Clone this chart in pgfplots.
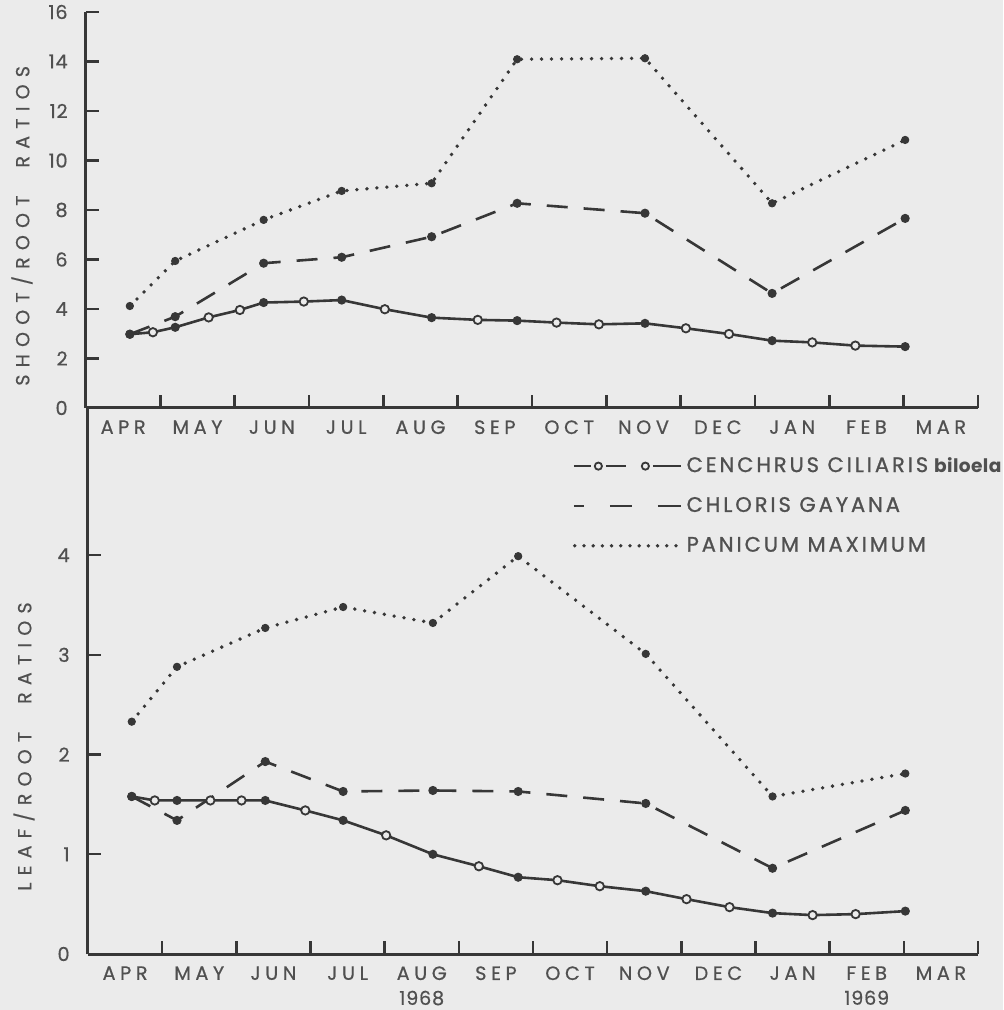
\documentclass[border=0pt]{standalone}
\usepackage{pgfplots}
\pgfplotsset{compat=1.18}
\usepackage{fontspec}
\setmainfont{Poppins}
\newfontfamily\lab[LetterSpace=24,FakeBold=0.6]{Poppins}
\newfontfamily\num[LetterSpace=4,FakeBold=0.6]{Poppins}
\newfontfamily\ylab[LetterSpace=38,FakeBold=0.6]{Poppins}
\newfontfamily\leg[LetterSpace=14,FakeBold=1]{Poppins}
\newfontfamily\labs[LetterSpace=2]{Poppins}
\definecolor{bgc}{RGB}{235,235,235}
\definecolor{ink}{RGB}{55,55,55}
\definecolor{txt}{RGB}{80,80,80}

\pgfplotsset{
  grassaxis/.style={
    scale only axis,
    xmin=0, xmax=12, ymin=0,
    axis lines=left,
    axis line style={-, line width=1.5pt, color=ink},
    tick align=inside,
    major tick length=6.5pt,
    tick style={line width=1.2pt, color=ink},
    xtick={1,...,12}, xticklabels={},
    extra x ticks={0.5,1.5,2.5,3.5,4.5,5.5,6.5,7.5,8.5,9.5,10.5,11.5},
    extra x tick style={major tick length=0pt, grid=none},
    xticklabel style={font=\lab\fontsize{9.6}{10}\selectfont, text=txt,
      anchor=north, inner sep=0pt, yshift=-6pt, align=center},
    yticklabel style={font=\num\fontsize{9.6}{10}\selectfont, text=txt,
      anchor=east, inner sep=0pt, xshift=-9pt},
    /pgf/number format/assume math mode=true,
    clip=false,
    every axis y label/.style={xshift=-32pt, rotate=90, anchor=center,
      font=\ylab\fontsize{9.5}{10}\selectfont, text=txt},
  },
  cen/.style={ink, line width=1.3pt, scatter, scatter src=explicit symbolic,
    scatter/classes={
      d={mark=*, mark size=1.6pt, draw=ink, fill=ink},
      o={mark=*, mark size=2.1pt, draw=ink, fill=bgc, line width=0.9pt}}},
  chl/.style={ink, line width=1.3pt, dash pattern=on 10.5pt off 8pt,
    mark=*, mark size=1.6pt, mark options={solid, fill=ink}},
  pan/.style={ink, line width=1.9pt, line cap=round, dash pattern=on 0pt off 5pt,
    mark=*, mark size=1.8pt, mark options={solid, fill=ink, line width=0.5pt}},
}

\begin{document}
\begin{tikzpicture}
\path[use as bounding box, fill=bgc] (0,0) rectangle (501.5pt,505pt);

% ---------------- top: shoot/root ----------------
\begin{axis}[grassaxis,
  at={(43pt,301pt)}, anchor=south west,
  width=446pt, height=198pt,
  ymax=16, ytick={0,2,...,16},
  extra x tick labels={APR,MAY,JUN,JUL,AUG,SEP,OCT,NOV,DEC,JAN,FEB,MAR},
  ylabel={SHOOT/ROOT\hspace{14pt}RATIOS},
  every axis y label/.append style={at={(rel axis cs:0,0.46)}},
]
\addplot[pan] coordinates {(0.59,4.12) (1.20,5.94) (2.39,7.60) (3.44,8.77) (4.65,9.08) (5.80,14.09) (7.52,14.13) (9.23,8.27) (11.02,10.83)};
\addplot[chl] coordinates {(0.59,2.98) (1.20,3.69) (2.39,5.85) (3.44,6.09) (4.65,6.92) (5.80,8.27) (7.52,7.87) (9.23,4.63) (11.02,7.66)};
\addplot[cen] table[meta=c] {
x y c
0.59 2.98 d
0.90 3.06 o
1.20 3.26 d
1.65 3.66 o
2.07 3.96 o
2.39 4.26 d
2.93 4.30 o
3.44 4.36 d
4.02 3.99 o
4.65 3.65 d
5.27 3.56 o
5.80 3.53 d
6.33 3.45 o
6.90 3.38 o
7.52 3.42 d
8.07 3.22 o
8.65 2.99 o
9.23 2.72 d
9.77 2.65 o
10.35 2.52 o
11.02 2.48 d
};
\end{axis}

% ---------------- bottom: leaf/root ----------------
\begin{axis}[grassaxis,
  at={(44pt,28pt)}, anchor=south west,
  width=445pt, height=273pt,
  ymax=5.476, ytick={0,1,2,3,4},
  extra x tick labels={APR,MAY,JUN,JUL,{AUG\\[2.5pt]{\num 1968}},SEP,OCT,NOV,DEC,JAN,{FEB\\[2.5pt]{\num 1969}},MAR},
  ylabel={LEAF/ROOT\hspace{14pt}RATIOS},
  every axis y label/.append style={at={(rel axis cs:0,0.38)}},
  legend style={at={(rel axis cs:0.544,0.918)}, anchor=north west,
    draw=none, fill=none, inner sep=0pt, row sep=7pt,
    font=\leg\fontsize{10.5}{12}\selectfont, nodes={text=txt}},
  legend cell align=left,
]
\addlegendimage{legend image code/.code={
  \draw[ink, line width=1.2pt] (0pt,0pt) -- (8.5pt,0pt) (16pt,0pt) -- (26pt,0pt) (39.5pt,0pt) -- (53.5pt,0pt);
  \draw[ink, line width=0.9pt, fill=bgc] (12.3pt,0pt) circle (1.8pt) (35.8pt,0pt) circle (1.8pt);
}}
\addlegendentry{CENCHRUS CILIARIS\hspace{3pt}{\labs\bfseries\fontsize{9.3}{10}\selectfont biloela}}
\addlegendimage{legend image code/.code={
  \draw[ink, line width=1.2pt] (0pt,0pt) -- (5pt,0pt) (18pt,0pt) -- (29pt,0pt) (42pt,0pt) -- (53.5pt,0pt);
}}
\addlegendentry{CHLORIS GAYANA}
\addlegendimage{legend image code/.code={
  \draw[ink, line width=1.9pt, line cap=round, dash pattern=on 0pt off 4.6pt] (0.5pt,0pt) -- (53.5pt,0pt);
}}
\addlegendentry{PANICUM MAXIMUM}

\addplot[pan, forget plot] coordinates {(0.59,2.33) (1.20,2.88) (2.39,3.27) (3.44,3.48) (4.65,3.32) (5.80,3.99) (7.52,3.01) (9.23,1.58) (11.02,1.81)};
\addplot[chl, forget plot] coordinates {(0.59,1.58) (1.20,1.34) (2.39,1.93) (3.44,1.63) (4.65,1.64) (5.80,1.63) (7.52,1.51) (9.23,0.86) (11.02,1.44)};
\addplot[cen, forget plot] table[meta=c] {
x y c
0.59 1.58 d
0.90 1.54 o
1.20 1.54 d
1.65 1.54 o
2.07 1.54 o
2.39 1.54 d
2.93 1.44 o
3.44 1.34 d
4.02 1.19 o
4.65 1.00 d
5.27 0.88 o
5.80 0.77 d
6.33 0.74 o
6.90 0.68 o
7.52 0.63 d
8.07 0.55 o
8.65 0.47 o
9.23 0.41 d
9.77 0.39 o
10.35 0.40 o
11.02 0.43 d
};
\end{axis}
\end{tikzpicture}
\end{document}
